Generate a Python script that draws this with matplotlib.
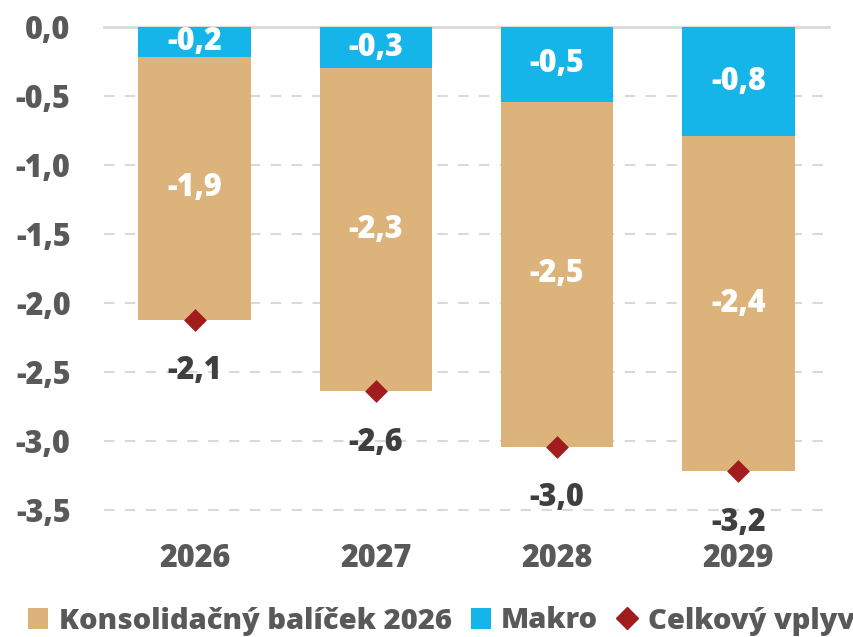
import matplotlib
matplotlib.use("Agg")
import matplotlib.pyplot as plt
from matplotlib.patches import Patch
from matplotlib.lines import Line2D

years = ["2026", "2027", "2028", "2029"]
konsolidacny = [-1.90, -2.34, -2.50, -2.43]
makro = [-0.22, -0.30, -0.54, -0.79]
celkovy = [-2.12, -2.64, -3.04, -3.22]
yticks = [0.0, -0.5, -1.0, -1.5, -2.0, -2.5, -3.0, -3.5]

C_TAN = "#DBB37B"
C_BLUE = "#16B5E9"
C_RED = "#A21C1E"
C_GREY = "#595959"
C_DARK = "#3F3F3F"

plt.rcParams['font.family'] = ['Open Sans', 'DejaVu Sans']
plt.rcParams['font.weight'] = 'heavy'
WT = "heavy"
FS = 22

fig = plt.figure(figsize=(8.54, 6.37), dpi=100)
ax = fig.add_axes([104/854, 1-510/637, 725/854, 483/637])

x = list(range(len(years)))
w = 0.62
ax.bar(x, makro, width=w, color=C_BLUE, zorder=2)
ax.bar(x, konsolidacny, width=w, bottom=makro, color=C_TAN, zorder=2)
ax.scatter(x, celkovy, marker="D", s=135, color=C_RED, zorder=3, linewidths=0)

fmt = lambda v: f"{v:.1f}".replace(".", ",")
for i in x:
    ax.text(i, makro[i] / 2, fmt(makro[i]), ha="center", va="center",
            color="white", fontsize=FS, fontweight=WT, zorder=4)
    ax.text(i, makro[i] + konsolidacny[i] / 2, fmt(konsolidacny[i]),
            ha="center", va="center", color="white", fontsize=FS,
            fontweight=WT, zorder=4)
    ax.annotate(fmt(celkovy[i]), (i, celkovy[i]), xytext=(0, -37),
                textcoords="offset points", ha="center", va="center",
                color=C_DARK, fontsize=FS, fontweight=WT, zorder=4)

ax.set_xlim(-0.5, 3.5)
ax.set_ylim(-3.5, 0.0)
ax.set_yticks(yticks)
ax.set_yticklabels([fmt(v) for v in yticks], fontsize=FS, color=C_GREY,
                   fontweight=WT)
ax.set_xticks(x)
ax.set_xticklabels(years, fontsize=FS, color=C_GREY, fontweight=WT)
ax.tick_params(axis="both", length=0)
ax.tick_params(axis="y", pad=24)
ax.tick_params(axis="x", pad=24)

for v in yticks[1:]:
    ax.axhline(v, color="#D9D9D9", lw=1.5, ls=(0, (5, 5)), zorder=1,
               clip_on=False)
ax.axhline(0, color="#D9D9D9", lw=2, zorder=1, clip_on=False)
for s in ax.spines.values():
    s.set_visible(False)

handles = [
    Patch(facecolor=C_TAN, label="Konsolidačný balíček 2026"),
    Patch(facecolor=C_BLUE, label="Makro"),
    Line2D([], [], marker="D", ls="", color=C_RED, markersize=11.5,
           label="Celkový vplyv"),
]
leg = fig.legend(handles=handles, loc="center", bbox_to_anchor=(441.5/854, 1-621/637),
                 ncol=3, frameon=False, fontsize=21, handlelength=0.7,
                 handleheight=0.7, handletextpad=0.35, columnspacing=0.65,
                 borderpad=0.0)
for t in leg.get_texts():
    t.set_color(C_GREY)
    t.set_fontweight(WT)

fig.savefig("out.png", dpi=100)
